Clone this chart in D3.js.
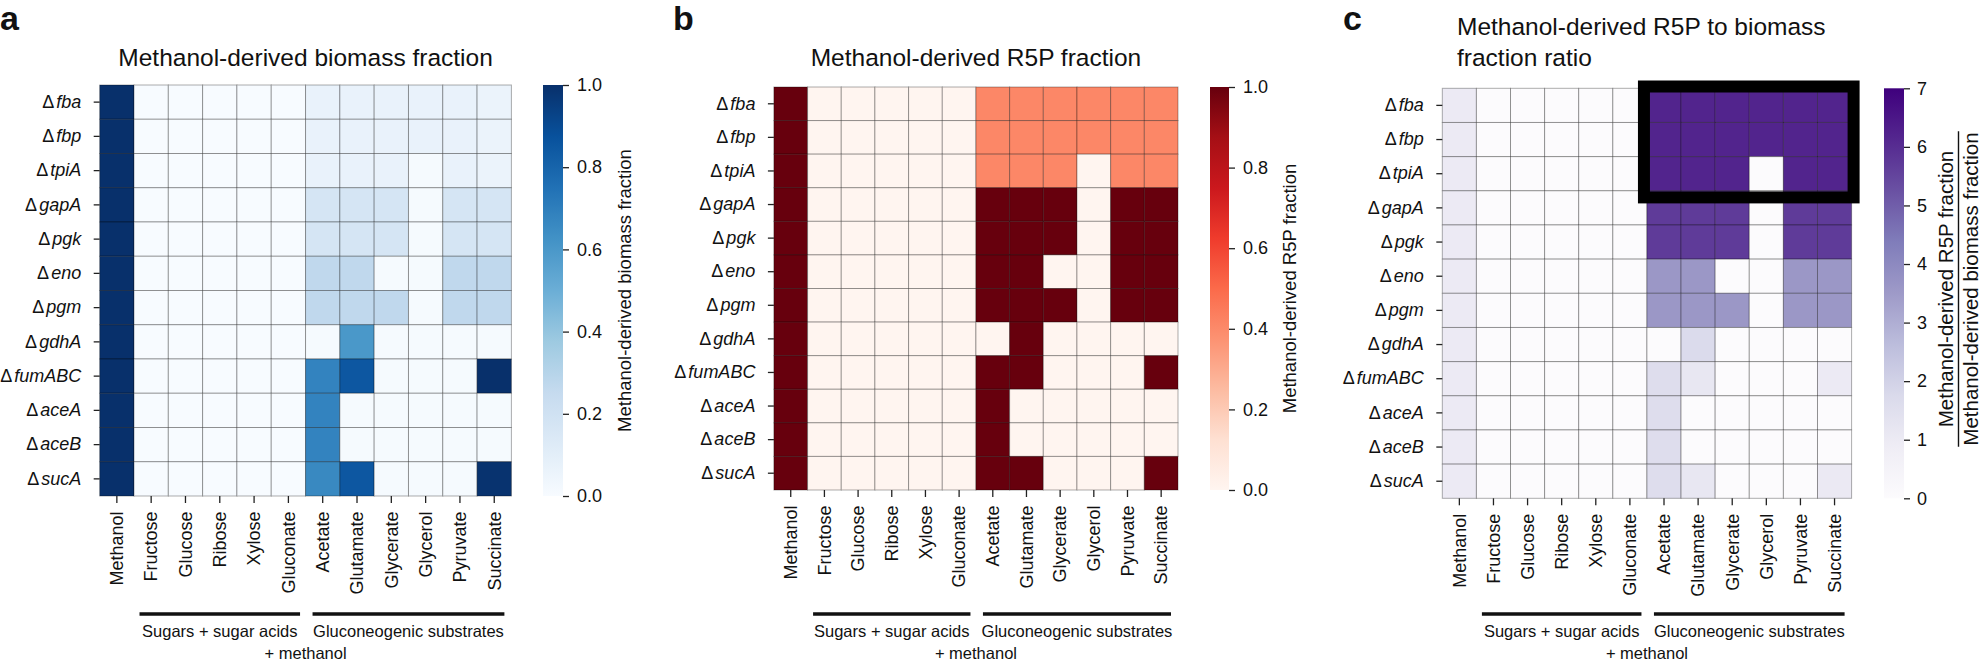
<!DOCTYPE html>
<html>
<head>
<meta charset="utf-8">
<script src="https://cdn.jsdelivr.net/npm/d3@7"></script>
<style>
  body { margin: 0; background: #fff; }
  svg { display: block; }
  text { font-family: "Liberation Sans", Arial, Helvetica, sans-serif; fill: #111; }
</style>
</head>
<body>
<div id="container"></div>
<script>
// columns (carbon sources) and rows (deletion strains)
const substrates = ['Methanol', 'Fructose', 'Glucose', 'Ribose', 'Xylose', 'Gluconate',
  'Acetate', 'Glutamate', 'Glycerate', 'Glycerol', 'Pyruvate', 'Succinate'];
const strains = ['fba', 'fbp', 'tpiA', 'gapA', 'pgk', 'eno', 'pgm', 'gdhA', 'fumABC', 'aceA', 'aceB', 'sucA'];

// substrate groups under the x axis
const groupLabels = ['Sugars + sugar acids', 'Gluconeogenic substrates'];
const groupFirst = ['Fructose', 'Acetate'];
const groupLast = ['Gluconate', 'Succinate'];
const groupCaption = '+ methanol';

// panel a: methanol-derived biomass fraction
const biomassFraction = [
  [1.00, 0, 0, 0, 0, 0, 0.07, 0.07, 0.07, 0.07, 0.07, 0.06],
  [1.00, 0, 0, 0, 0, 0, 0.07, 0.07, 0.07, 0.07, 0.07, 0.06],
  [1.00, 0, 0, 0, 0, 0, 0.07, 0.07, 0.07, 0.01, 0.07, 0.06],
  [1.00, 0, 0, 0, 0, 0, 0.17, 0.17, 0.17, 0.01, 0.17, 0.17],
  [1.00, 0, 0, 0, 0, 0, 0.17, 0.17, 0.17, 0.01, 0.17, 0.17],
  [1.00, 0, 0, 0, 0, 0, 0.27, 0.27, 0.01, 0.01, 0.27, 0.27],
  [1.00, 0, 0, 0, 0, 0, 0.27, 0.27, 0.27, 0.01, 0.27, 0.27],
  [1.00, 0, 0, 0, 0, 0, 0.01, 0.60, 0.01, 0.01, 0.01, 0.01],
  [1.00, 0, 0, 0, 0, 0, 0.68, 0.85, 0.01, 0.01, 0.01, 1.00],
  [1.00, 0, 0, 0, 0, 0, 0.68, 0.01, 0.01, 0.01, 0.01, 0.01],
  [1.00, 0, 0, 0, 0, 0, 0.68, 0.01, 0.01, 0.01, 0.01, 0.01],
  [1.00, 0, 0, 0, 0, 0, 0.66, 0.85, 0.01, 0.01, 0.01, 0.99]
];

// panel b: methanol-derived R5P fraction
const r5pFraction = [
  [1, 0, 0, 0, 0, 0, 0.41, 0.41, 0.41, 0.41, 0.41, 0.41],
  [1, 0, 0, 0, 0, 0, 0.41, 0.41, 0.41, 0.41, 0.41, 0.41],
  [1, 0, 0, 0, 0, 0, 0.41, 0.41, 0.41, 0, 0.41, 0.41],
  [1, 0, 0, 0, 0, 0, 1, 1, 1, 0, 1, 1],
  [1, 0, 0, 0, 0, 0, 1, 1, 1, 0, 1, 1],
  [1, 0, 0, 0, 0, 0, 1, 1, 0, 0, 1, 1],
  [1, 0, 0, 0, 0, 0, 1, 1, 1, 0, 1, 1],
  [1, 0, 0, 0, 0, 0, 0, 1, 0, 0, 0, 0],
  [1, 0, 0, 0, 0, 0, 1, 1, 0, 0, 0, 1],
  [1, 0, 0, 0, 0, 0, 1, 0, 0, 0, 0, 0],
  [1, 0, 0, 0, 0, 0, 1, 0, 0, 0, 0, 0],
  [1, 0, 0, 0, 0, 0, 1, 1, 0, 0, 0, 1]
];

// panel c: R5P to biomass fraction ratio
const fractionRatio = [
  [1.0, 0, 0, 0, 0, 0, 6.2, 6.2, 6.2, 6.2, 6.2, 6.2],
  [1.0, 0, 0, 0, 0, 0, 6.2, 6.2, 6.2, 6.2, 6.2, 6.2],
  [1.0, 0, 0, 0, 0, 0, 6.2, 6.2, 6.2, 0, 6.2, 6.2],
  [1.0, 0, 0, 0, 0, 0, 5.7, 5.7, 5.7, 0, 5.7, 5.7],
  [1.0, 0, 0, 0, 0, 0, 5.7, 5.7, 5.7, 0, 5.7, 5.7],
  [1.0, 0, 0, 0, 0, 0, 3.6, 3.6, 0, 0, 3.6, 3.6],
  [1.0, 0, 0, 0, 0, 0, 3.6, 3.6, 3.6, 0, 3.6, 3.6],
  [1.0, 0, 0, 0, 0, 0, 0, 1.7, 0, 0, 0, 0],
  [1.0, 0, 0, 0, 0, 0, 1.6, 1.15, 0, 0, 0, 1.0],
  [1.0, 0, 0, 0, 0, 0, 1.6, 0, 0, 0, 0, 0],
  [1.0, 0, 0, 0, 0, 0, 1.6, 0, 0, 0, 0, 0],
  [1.0, 0, 0, 0, 0, 0, 1.6, 1.15, 0, 0, 0, 1.05]
];

const fractionTicks = [0, 0.2, 0.4, 0.6, 0.8, 1.0];
const ratioTicks = [0, 1, 2, 3, 4, 5, 6, 7];

// highlighted block in panel c
const boxStrains = ['fba', 'tpiA'];
const boxSubstrates = ['Acetate', 'Succinate'];

const width = 1980, height = 662;

const svg = d3.select('#container')
  .append('svg')
  .attr('id', 'svg_heatmaps')
  .attr('width', width)
  .attr('height', height);

const defs = svg.append('defs');

const panels = [
  {id: 'a', values: biomassFraction, scheme: d3.schemeBlues[9], domain: [0, 1], ticks: fractionTicks,
   fmt: d3.format('.1f'), title: ['Methanol-derived biomass fraction'],
   left: 99.7, right: 511.4, top: 85, bottom: 496, cbLeft: 543, cbRight: 563, cbPad: 8, labelX: 631, letterX: 0},
  {id: 'b', values: r5pFraction, scheme: d3.schemeReds[9], domain: [0, 1], ticks: fractionTicks,
   fmt: d3.format('.1f'), title: ['Methanol-derived R5P fraction'],
   left: 773.9, right: 1178, top: 87, bottom: 490, cbLeft: 1210, cbRight: 1229, cbPad: 8, labelX: 1296, letterX: 673},
  {id: 'c', values: fractionRatio, scheme: d3.schemePurples[9], domain: [0, 7], ticks: ratioTicks,
   fmt: d3.format('d'), title: ['Methanol-derived R5P to biomass', 'fraction ratio'],
   left: 1442.3, right: 1851.6, top: 88.3, bottom: 498.3, cbLeft: 1884, cbRight: 1904, cbPad: 7, labelX: 1958.5, letterX: 1343}
];

const drawPanel = (p) => {
  const g = svg.append('g').attr('id', `g_${p.id}`);

  const xScale = d3.scaleBand().domain(substrates).range([p.left, p.right]);
  const yScale = d3.scaleBand().domain(strains).range([p.top, p.bottom]);

  // piecewise linear colormap through the 9 brewer colours (like matplotlib)
  const stops = p.scheme.map((c, i) => p.domain[0] + (p.domain[1] - p.domain[0]) * i / (p.scheme.length - 1));
  const color = d3.scaleLinear().domain(stops).range(p.scheme).interpolate(d3.interpolateRgb).clamp(true);

  const cells = strains.flatMap((s, i) => substrates.map((c, j) => ({strain: s, substrate: c, value: p.values[i][j]})));

  g.append('g')
    .selectAll('rect')
    .data(cells)
    .join('rect')
    .attr('x', d => xScale(d.substrate))
    .attr('y', d => yScale(d.strain))
    .attr('width', xScale.bandwidth())
    .attr('height', yScale.bandwidth())
    .style('fill', d => color(d.value))
    .style('stroke', 'rgba(0,0,0,0.32)')
    .style('stroke-width', 1);

  //row axis
  const yAxis = g.append('g')
    .attr('transform', `translate(${p.left}, 0)`)
    .call(d3.axisLeft(yScale).tickSize(6).tickPadding(12.5).tickFormat(''));
  yAxis.select('.domain').remove();
  yAxis.selectAll('.tick line').style('stroke', '#222').style('stroke-width', 1.3);
  yAxis.selectAll('.tick text')
    .attr('font-size', 18)
    .attr('font-family', null)
    .each(function(d) {
      const t = d3.select(this);
      t.append('tspan').text('\u0394');
      t.append('tspan').attr('dx', 2).style('font-style', 'italic').text(d);
    });

  //column axis
  const xAxis = g.append('g')
    .attr('transform', `translate(0, ${p.bottom})`)
    .call(d3.axisBottom(xScale).tickSize(7));
  xAxis.select('.domain').remove();
  xAxis.selectAll('.tick line').style('stroke', '#222').style('stroke-width', 1.3);
  xAxis.selectAll('.tick text')
    .attr('font-size', 18)
    .attr('font-family', null)
    .attr('transform', 'rotate(-90)')
    .attr('text-anchor', 'end')
    .attr('x', -15.5)
    .attr('y', 0)
    .attr('dy', '0.35em');

  //substrate group brackets
  const lineY = 614;
  groupLabels.forEach((label, i) => {
    const inset = i === 0 ? 5.5 : 7;
    const x1 = xScale(groupFirst[i]) + inset;
    const x2 = xScale(groupLast[i]) + xScale.bandwidth() - inset;
    g.append('line')
      .attr('x1', x1).attr('x2', x2)
      .attr('y1', lineY).attr('y2', lineY)
      .style('stroke', '#111')
      .style('stroke-width', 3.3);
    g.append('text')
      .attr('x', (xScale(groupFirst[i]) + xScale(groupLast[i]) + xScale.bandwidth()) / 2)
      .attr('y', 637)
      .attr('text-anchor', 'middle')
      .attr('font-size', 16.5)
      .text(label);
  });
  g.append('text')
    .attr('x', (p.left + p.right) / 2)
    .attr('y', 659)
    .attr('text-anchor', 'middle')
    .attr('font-size', 16.5)
    .text(groupCaption);

  //title
  if (p.title.length === 1) {
    g.append('text')
      .attr('x', (p.left + p.right) / 2)
      .attr('y', 66)
      .attr('text-anchor', 'middle')
      .attr('font-size', 24.5)
      .text(p.title[0]);
  } else {
    p.title.forEach((line, i) => {
      g.append('text')
        .attr('x', 1457)
        .attr('y', 35 + i * 31)
        .attr('font-size', 24.5)
        .text(line);
    });
  }

  //panel letter
  g.append('text')
    .attr('x', p.letterX)
    .attr('y', 30)
    .attr('font-size', 34)
    .attr('font-weight', 'bold')
    .text(p.id);

  //colour bar
  const gradient = defs.append('linearGradient')
    .attr('id', `grad_${p.id}`)
    .attr('x1', 0).attr('y1', 1)
    .attr('x2', 0).attr('y2', 0);
  gradient.selectAll('stop')
    .data(p.scheme)
    .join('stop')
    .attr('offset', (d, i) => `${100 * i / (p.scheme.length - 1)}%`)
    .attr('stop-color', d => d);

  g.append('rect')
    .attr('x', p.cbLeft)
    .attr('y', p.top)
    .attr('width', p.cbRight - p.cbLeft)
    .attr('height', p.bottom - p.top)
    .style('fill', `url(#grad_${p.id})`);

  const cbScale = d3.scaleLinear().domain(p.domain).range([p.bottom, p.top]);
  const cbAxis = g.append('g')
    .attr('transform', `translate(${p.cbRight}, 0)`)
    .call(d3.axisRight(cbScale).tickValues(p.ticks).tickFormat(p.fmt).tickSize(6).tickPadding(p.cbPad));
  cbAxis.select('.domain').remove();
  cbAxis.selectAll('.tick line').style('stroke', '#222').style('stroke-width', 1.3);
  cbAxis.selectAll('.tick text').attr('font-size', 18).attr('font-family', null);

  //colour bar label
  const midY = (p.top + p.bottom) / 2;
  if (p.id !== 'c') {
    g.append('text')
      .attr('transform', `translate(${p.labelX}, ${midY}) rotate(-90)`)
      .attr('text-anchor', 'middle')
      .attr('font-size', 18.5)
      .text(p.title[0]);
  } else {
    const frac = g.append('g')
      .attr('transform', `translate(${p.labelX}, 289) rotate(-90)`);
    frac.append('text')
      .attr('y', -6)
      .attr('text-anchor', 'middle')
      .attr('font-size', 20.5)
      .text('Methanol-derived R5P fraction');
    const denom = frac.append('text')
      .attr('y', 19)
      .attr('text-anchor', 'middle')
      .attr('font-size', 20.5)
      .text('Methanol-derived biomass fraction');
    const len = denom.node().getComputedTextLength();
    frac.append('line')
      .attr('x1', -len / 2 - 1).attr('x2', len / 2 + 1)
      .attr('y1', 0).attr('y2', 0)
      .style('stroke', '#111')
      .style('stroke-width', 1.4);

    //highlight box
    g.append('rect')
      .attr('x', xScale(boxSubstrates[0]) - 3)
      .attr('y', yScale(boxStrains[0]) - 1.8)
      .attr('width', xScale(boxSubstrates[1]) + xScale.bandwidth() - xScale(boxSubstrates[0]) + 5)
      .attr('height', yScale(boxStrains[1]) + yScale.bandwidth() - yScale(boxStrains[0]) + 8.4)
      .style('fill', 'none')
      .style('stroke', '#000')
      .style('stroke-width', 12);
  }
}

panels.forEach(drawPanel);
</script>
</body>
</html>
